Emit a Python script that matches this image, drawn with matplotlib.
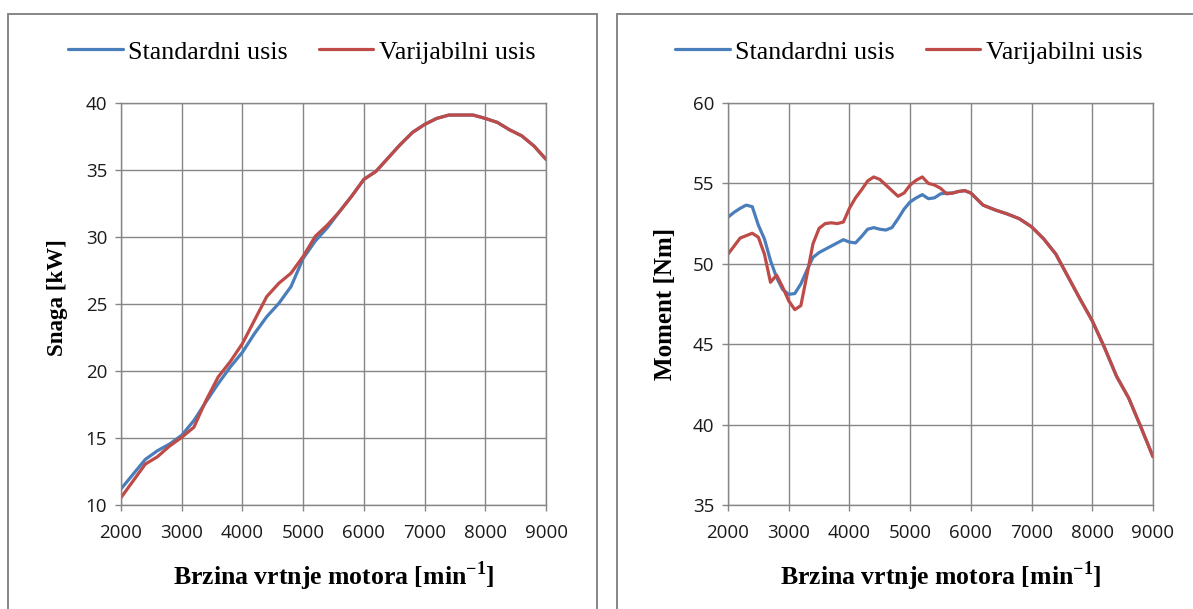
import matplotlib
matplotlib.use('Agg')
import matplotlib.pyplot as plt
from matplotlib.patches import Rectangle


# engine speed [min-1]
rpm_power = [2000, 2200, 2400, 2600, 2800, 3000, 3200, 3400, 3600, 3800,
             4000, 4200, 4400, 4600, 4800, 5000, 5200, 5400, 5600, 5800,
             6000, 6200, 6400, 6600, 6800, 7000, 7200, 7400, 7600, 7800,
             8000, 8200, 8400, 8600, 8800, 9000]

power_standard = [11.2, 12.3, 13.4, 14.05, 14.55, 15.2, 16.3, 17.7, 19.05, 20.3,
                  21.4, 22.8, 24.05, 25.05, 26.3, 28.4, 29.7, 30.7, 31.9, 33.05,
                  34.3, 34.9, 35.9, 36.9, 37.8, 38.4, 38.85, 39.1, 39.1, 39.1,
                  38.85, 38.55, 38.0, 37.55, 36.8, 35.8]

power_variable = [10.55, 11.8, 13.05, 13.6, 14.4, 15.05, 15.8, 17.8, 19.55, 20.7,
                  22.05, 23.8, 25.55, 26.55, 27.3, 28.55, 30.05, 30.9, 31.9, 33.05,
                  34.3, 34.9, 35.9, 36.9, 37.8, 38.4, 38.85, 39.1, 39.1, 39.1,
                  38.85, 38.55, 38.0, 37.55, 36.8, 35.8]

rpm_torque = [2000, 2100, 2200, 2300, 2400, 2500, 2600, 2700, 2800, 2900,
              3000, 3100, 3200, 3300, 3400, 3500, 3600, 3700, 3800, 3900,
              4000, 4100, 4200, 4300, 4400, 4500, 4600, 4700, 4800, 4900,
              5000, 5100, 5200, 5300, 5400, 5500, 5600, 5700, 5800, 5900,
              6000, 6200, 6400, 6600, 6800, 7000, 7200, 7400, 7600, 7800,
              8000, 8200, 8400, 8600, 8800, 9000]

torque_standard = [52.9, 53.2, 53.45, 53.65, 53.55, 52.4, 51.55, 50.2, 49.15, 48.4,
                   48.1, 48.15, 48.75, 49.6, 50.4, 50.7, 50.9, 51.1, 51.3, 51.5,
                   51.35, 51.3, 51.7, 52.15, 52.25, 52.15, 52.1, 52.25, 52.8, 53.4,
                   53.85, 54.1, 54.3, 54.05, 54.1, 54.35, 54.4, 54.4, 54.5, 54.55,
                   54.4, 53.65, 53.35, 53.1, 52.8, 52.3, 51.55, 50.6, 49.2, 47.8,
                   46.45, 44.8, 43.0, 41.65, 39.85, 38.0]

torque_variable = [50.6, 51.1, 51.6, 51.75, 51.9, 51.65, 50.6, 48.85, 49.3, 48.55,
                   47.7, 47.15, 47.4, 49.3, 51.25, 52.2, 52.5, 52.55, 52.5, 52.6,
                   53.45, 54.1, 54.6, 55.15, 55.4, 55.25, 54.9, 54.55, 54.2, 54.4,
                   54.9, 55.2, 55.4, 55.0, 54.9, 54.7, 54.35, 54.4, 54.5, 54.55,
                   54.4, 53.65, 53.35, 53.1, 52.8, 52.3, 51.55, 50.6, 49.2, 47.8,
                   46.45, 44.8, 43.0, 41.65, 39.85, 38.0]

labels = ['Standardni usis', 'Varijabilni usis']
x_ticks = [2000, 3000, 4000, 5000, 6000, 7000, 8000, 9000]

BLUE = '#4a7ebb'
RED = '#be4b48'
GRAY = '#868686'
SERIF = 'Liberation Serif'

plt.rcParams['mathtext.fontset'] = 'custom'
plt.rcParams['mathtext.rm'] = SERIF
plt.rcParams['mathtext.bf'] = SERIF + ':bold'


def style_axes(ax, ylim, yticks, ylabel, ylabel_size, ylabel_x, ylabel_y):
    ax.set_xlim(2000, 9000)
    ax.set_ylim(*ylim)
    ax.set_xticks(x_ticks)
    ax.set_yticks(yticks)
    ax.grid(True, color=GRAY, linewidth=1.0)
    ax.set_axisbelow(True)
    for sp in ax.spines.values():
        sp.set_color(GRAY)
        sp.set_linewidth(1.0)
    ax.tick_params(direction='out', length=4, width=1.0, color=GRAY,
                   labelsize=13.5, pad=6)
    ax.tick_params(axis='x', pad=10)
    for lab in ax.get_xticklabels() + ax.get_yticklabels():
        lab.set_fontfamily('Open Sans')
        lab.set_color('#1a1a1a')
    ax.set_xlabel(r'Brzina vrtnje motora [min$^{\mathbf{-1}}$]',
                  fontsize=18.5, fontfamily=SERIF, fontweight='bold')
    ax.xaxis.set_label_coords(0.5, -0.135)
    ax.set_ylabel(ylabel, fontsize=ylabel_size, fontfamily=SERIF, fontweight='bold')
    ax.yaxis.set_label_coords(ylabel_x, ylabel_y)
    ax.legend(labels, loc='center', bbox_to_anchor=(0.425, 1.127), ncol=2,
              frameon=False, handlelength=2.1, handletextpad=0.2,
              columnspacing=1.2, prop={'family': SERIF, 'size': 18.7})


fig = plt.figure(figsize=(11.93, 6.09), dpi=100)

ax1 = fig.add_axes([121 / 1193, 104 / 609, 425 / 1193, 402 / 609])
ax1.plot(rpm_power, power_standard, color=BLUE, linewidth=2.3, solid_capstyle='round')
ax1.plot(rpm_power, power_variable, color=RED, linewidth=2.3, solid_capstyle='round')
style_axes(ax1, (10, 40), [10, 15, 20, 25, 30, 35, 40], 'Snaga [kW]', 16.5, -0.125, 0.517)

ax2 = fig.add_axes([728 / 1193, 104 / 609, 425 / 1193, 402 / 609])
ax2.plot(rpm_torque, torque_standard, color=BLUE, linewidth=2.3, solid_capstyle='round')
ax2.plot(rpm_torque, torque_variable, color=RED, linewidth=2.3, solid_capstyle='round')
style_axes(ax2, (35, 60), [35, 40, 45, 50, 55, 60], 'Moment [Nm]', 18, -0.12, 0.5)

# chart area borders (cut by the image edge)
fig.add_artist(Rectangle((8 / 1193, -0.05), 589 / 1193, 1.05 - 14 / 609,
                         transform=fig.transFigure, fill=False,
                         edgecolor=GRAY, linewidth=1.4))
fig.add_artist(Rectangle((617 / 1193, -0.05), 600 / 1193, 1.05 - 14 / 609,
                         transform=fig.transFigure, fill=False,
                         edgecolor=GRAY, linewidth=1.4))

fig.savefig('out.png', dpi=100)
